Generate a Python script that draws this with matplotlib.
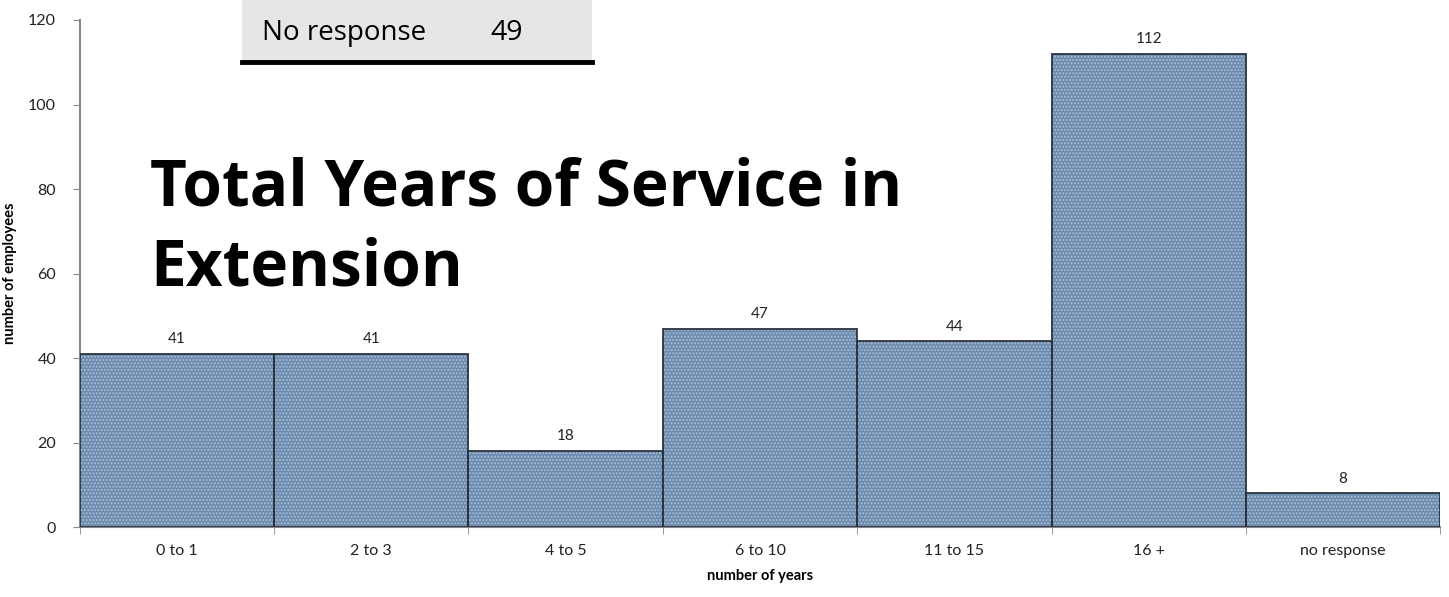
import matplotlib.pyplot as plt
import numpy as np

categories = ['0 to 1', '2 to 3', '4 to 5', '6 to 10', '11 to 15', '16 +', 'no response']
counts = [41, 41, 18, 47, 44, 112, 8]
y_ticks = [0, 20, 40, 60, 80, 100, 120]

plt.rcParams['font.family'] = ['Lato', 'DejaVu Sans']

fig = plt.figure(figsize=(14.49, 5.97), dpi=100)
ax = fig.add_axes([0.055, 0.117, 0.939, 0.8495])

x = np.arange(len(categories))
bar_color = '#6b8aae'
ax.bar(x, counts, width=1.0, color=bar_color, edgecolor='none', zorder=2)
# dotted texture on top of the fill
ax.bar(x, counts, width=1.0, facecolor='none', edgecolor='#aabfd6', hatch='.....',
       linewidth=0, zorder=3)
ax.bar(x, counts, width=1.0, facecolor='none', edgecolor='#2a3440', linewidth=1.3, zorder=4)

for xi, c in zip(x, counts):
    ax.text(xi, c + 1.8, str(c), ha='center', va='bottom', fontsize=11, color='#222222')

ax.set_xlim(-0.5, len(categories) - 0.5)
ax.set_ylim(0, 120)
ax.set_yticks(y_ticks)
ax.set_xticks(x)
ax.set_xticklabels(categories, fontsize=11.5)
ax.set_xticks(np.arange(len(categories) + 1) - 0.5, minor=True)
ax.tick_params(axis='x', which='major', length=0, pad=12, labelcolor='#222222')
ax.tick_params(axis='x', which='minor', length=5, color='#888888')
ax.tick_params(axis='y', labelsize=11.5, length=5, color='#888888', pad=12, labelcolor='#222222')

for s in ['top', 'right']:
    ax.spines[s].set_visible(False)
for s in ['left', 'bottom']:
    ax.spines[s].set_color('#888888')
    ax.spines[s].set_linewidth(1.5)

ax.set_ylabel('number of employees', fontsize=10.5, fontweight='bold', labelpad=8)
ax.set_xlabel('number of years', fontsize=10.5, fontweight='bold', labelpad=8)

title_font = ['Open Sans', 'DejaVu Sans']
fig.text(150 / 1449, 1 - 206 / 597, 'Total Years of Service in', fontsize=46,
         fontweight='bold', ha='left', va='baseline', family=title_font)
fig.text(150 / 1449, 1 - 286 / 597, 'Extension', fontsize=46,
         fontweight='bold', ha='left', va='baseline', family=title_font)

# "No response" summary box
box = plt.Rectangle((242 / 1449, 1 - 60 / 597), 350 / 1449, 60 / 597,
                    transform=fig.transFigure, facecolor='#e6e6e6', edgecolor='none', zorder=5)
fig.add_artist(box)
fig.add_artist(plt.Line2D([242 / 1449, 592 / 1449], [1 - 62 / 597, 1 - 62 / 597],
                          transform=fig.transFigure, color='black', linewidth=3.5, zorder=6))
fig.text(262 / 1449, 1 - 40 / 597, 'No response', fontsize=20, ha='left', va='baseline',
         zorder=7, family=title_font)
fig.text(490 / 1449, 1 - 40 / 597, '49', fontsize=20.5, ha='left', va='baseline',
         zorder=7, family=title_font)

plt.savefig('out.png', dpi=100)
